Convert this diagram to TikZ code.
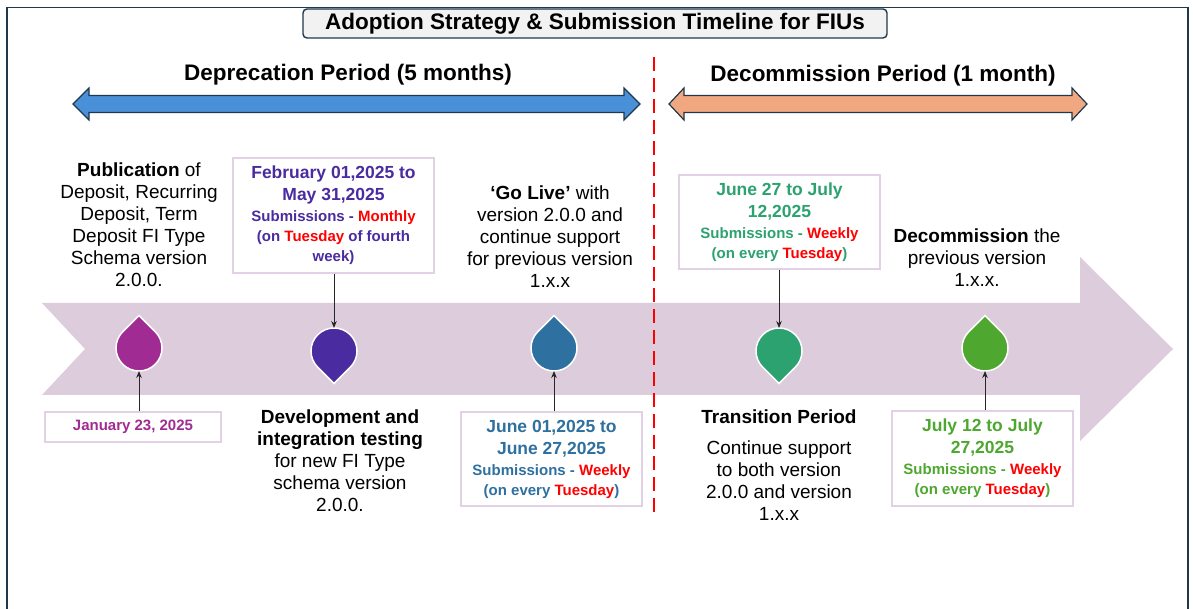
\documentclass[tikz,border=0pt]{standalone}
\usepackage{fontspec}
\setmainfont{Liberation Sans}
\usetikzlibrary{arrows.meta}

\begin{document}
\begin{tikzpicture}[x=1pt,y=1pt,
  txt/.style={inner sep=0pt, outer sep=0pt, align=center, font=\fontsize{19}{22}\selectfont},
  period/.style={inner sep=0pt, outer sep=0pt, font=\fontsize{22.5}{26}\selectfont\bfseries},
  datebox/.style={draw=boxColor, line width=1.5pt, fill=white, inner sep=0pt, align=center, font=\fontsize{17.5}{22}\selectfont\bfseries},
  dropnode/.style={circle, minimum size=46pt, inner sep=0pt, outer sep=0pt},
  link/.style={draw=black!85, line width=0.9pt, -{Stealth[length=7pt,width=5.5pt]}}]
\definecolor{frameColor}{RGB}{31,56,75}
\definecolor{titleFill}{RGB}{242,242,242}
\definecolor{deprColor}{RGB}{74,144,217}
\definecolor{decoColor}{RGB}{241,168,128}
\definecolor{bandColor}{RGB}{221,204,220}
\definecolor{boxColor}{RGB}{226,208,228}
\definecolor{janColor}{RGB}{160,43,147}
\definecolor{febColor}{RGB}{75,43,160}
\definecolor{junColor}{RGB}{46,112,160}
\definecolor{trnColor}{RGB}{44,162,112}
\definecolor{julColor}{RGB}{78,167,46}
\definecolor{hotColor}{RGB}{255,0,0}
\path[use as bounding box,fill=white] (0,0) rectangle (1193,608);

% frame and heading
\path[draw=frameColor,line width=1.6pt] (7,-5) -- (7,600.5) -- (1188,600.5) -- (1188,-5);
\node[draw=frameColor,fill=titleFill,rounded corners=4pt,line width=1.4pt,minimum width=584pt,minimum height=29pt,inner sep=0pt,font=\fontsize{22.5}{26}\selectfont\bfseries] (title) at (595,584.5) {Adoption Strategy \& Submission Timeline for FIUs};

% periods
\node[period] (depr) at (348,533) {Deprecation Period (5 months)};
\node[period] (deco) at (883,532) {Decommission Period (1 month)};
\path[draw=frameColor,fill=deprColor,line width=1.2pt] (73,504) -- (89,520) -- (89,512.5) -- (624,512.5) -- (624,520) -- (640,504) -- (624,488) -- (624,495.5) -- (89,495.5) -- (89,488) -- cycle;
\path[draw=frameColor,fill=decoColor,line width=1.2pt] (669,504) -- (684,520) -- (684,512.5) -- (1072,512.5) -- (1072,520) -- (1087,504) -- (1072,488) -- (1072,495.5) -- (684,495.5) -- (684,488) -- cycle;

% timeline band
\path[fill=bandColor] (42,305) -- (1080,305) -- (1080,351) -- (1173,259) -- (1080,167) -- (1080,213) -- (42,213) -- (85,259) -- cycle;
\path[draw=hotColor,line width=1.5pt,dash pattern=on 14pt off 7pt] (654,551) -- (654,93);

% markers
\foreach \nm/\px/\py/\col/\rot in {m1/139/260/janColor/0, m2/334/257/febColor/180, m3/554/260/junColor/0, m4/779/257/trnColor/180, m5/985/260/julColor/0}{
  \path[fill=\col,draw=white,line width=1.5pt,shift={(\px,\py)},rotate=\rot] (0,32.5) -- (135:23) arc[start angle=135,end angle=405,radius=23] -- cycle;
  \node[dropnode] (\nm) at (\px,\py) {};
}

% texts
\node[txt] (pub) at (139,383) {\textbf{Publication} of\\Deposit, Recurring\\Deposit, Term\\Deposit FI Type\\Schema version\\2.0.0.};
\node[txt] (dev) at (340,147) {\textbf{Development and}\\\textbf{integration testing}\\for new FI Type\\schema version\\2.0.0.};
\node[txt] (live) at (550,371) {\textbf{‘Go Live’} with\\version 2.0.0 and\\continue support\\for previous version\\1.x.x};
\node[txt,font=\fontsize{19}{22}\selectfont\bfseries] (trTitle) at (779,191) {Transition Period};
\node[txt] (trBody) at (779,127.5) {Continue support\\to both version\\2.0.0 and version\\1.x.x};
\node[txt] (decom) at (977,350) {\textbf{Decommission} the\\previous version\\1.x.x.};

% date boxes
\node[datebox,minimum width=176pt,minimum height=30pt,text=janColor,font=\fontsize{15}{18}\selectfont\bfseries] (jan) at (133,181) {January 23, 2025};
\node[datebox,minimum width=201pt,minimum height=115pt,text=febColor] (feb) at (333.5,392.5) {February 01,2025 to\\May 31,2025\\[-1pt]{\fontsize{15}{20}\selectfont Submissions - \textcolor{hotColor}{Monthly}}\\[-2pt]{\fontsize{15}{20}\selectfont (on \textcolor{hotColor}{Tuesday} of fourth}\\[-2pt]{\fontsize{15}{20}\selectfont week)}};
\node[datebox,minimum width=181pt,minimum height=94pt,text=junColor] (jun) at (551.5,149) {June 01,2025 to\\June 27,2025\\[-1pt]{\fontsize{15}{20}\selectfont Submissions - \textcolor{hotColor}{Weekly}}\\[-2pt]{\fontsize{15}{20}\selectfont (on every \textcolor{hotColor}{Tuesday})}};
\node[datebox,minimum width=201pt,minimum height=94pt,text=trnColor] (trn) at (779.5,386) {June 27 to July\\12,2025\\[-1pt]{\fontsize{15}{20}\selectfont Submissions - \textcolor{hotColor}{Weekly}}\\[-2pt]{\fontsize{15}{20}\selectfont (on every \textcolor{hotColor}{Tuesday})}};
\node[datebox,minimum width=181pt,minimum height=95pt,text=julColor] (jul) at (982.5,149.5) {July 12 to July\\27,2025\\[-1pt]{\fontsize{15}{20}\selectfont Submissions - \textcolor{hotColor}{Weekly}}\\[-2pt]{\fontsize{15}{20}\selectfont (on every \textcolor{hotColor}{Tuesday})}};

% connectors
\draw[link] (jan.north -| m1) -- (m1.south);
\draw[link] (feb.south -| m2) -- (m2.north);
\draw[link] (jun.north -| m3) -- (m3.south);
\draw[link] (trn.south -| m4) -- (m4.north);
\draw[link] (jul.north -| m5) -- (m5.south);
\end{tikzpicture}
\end{document}
